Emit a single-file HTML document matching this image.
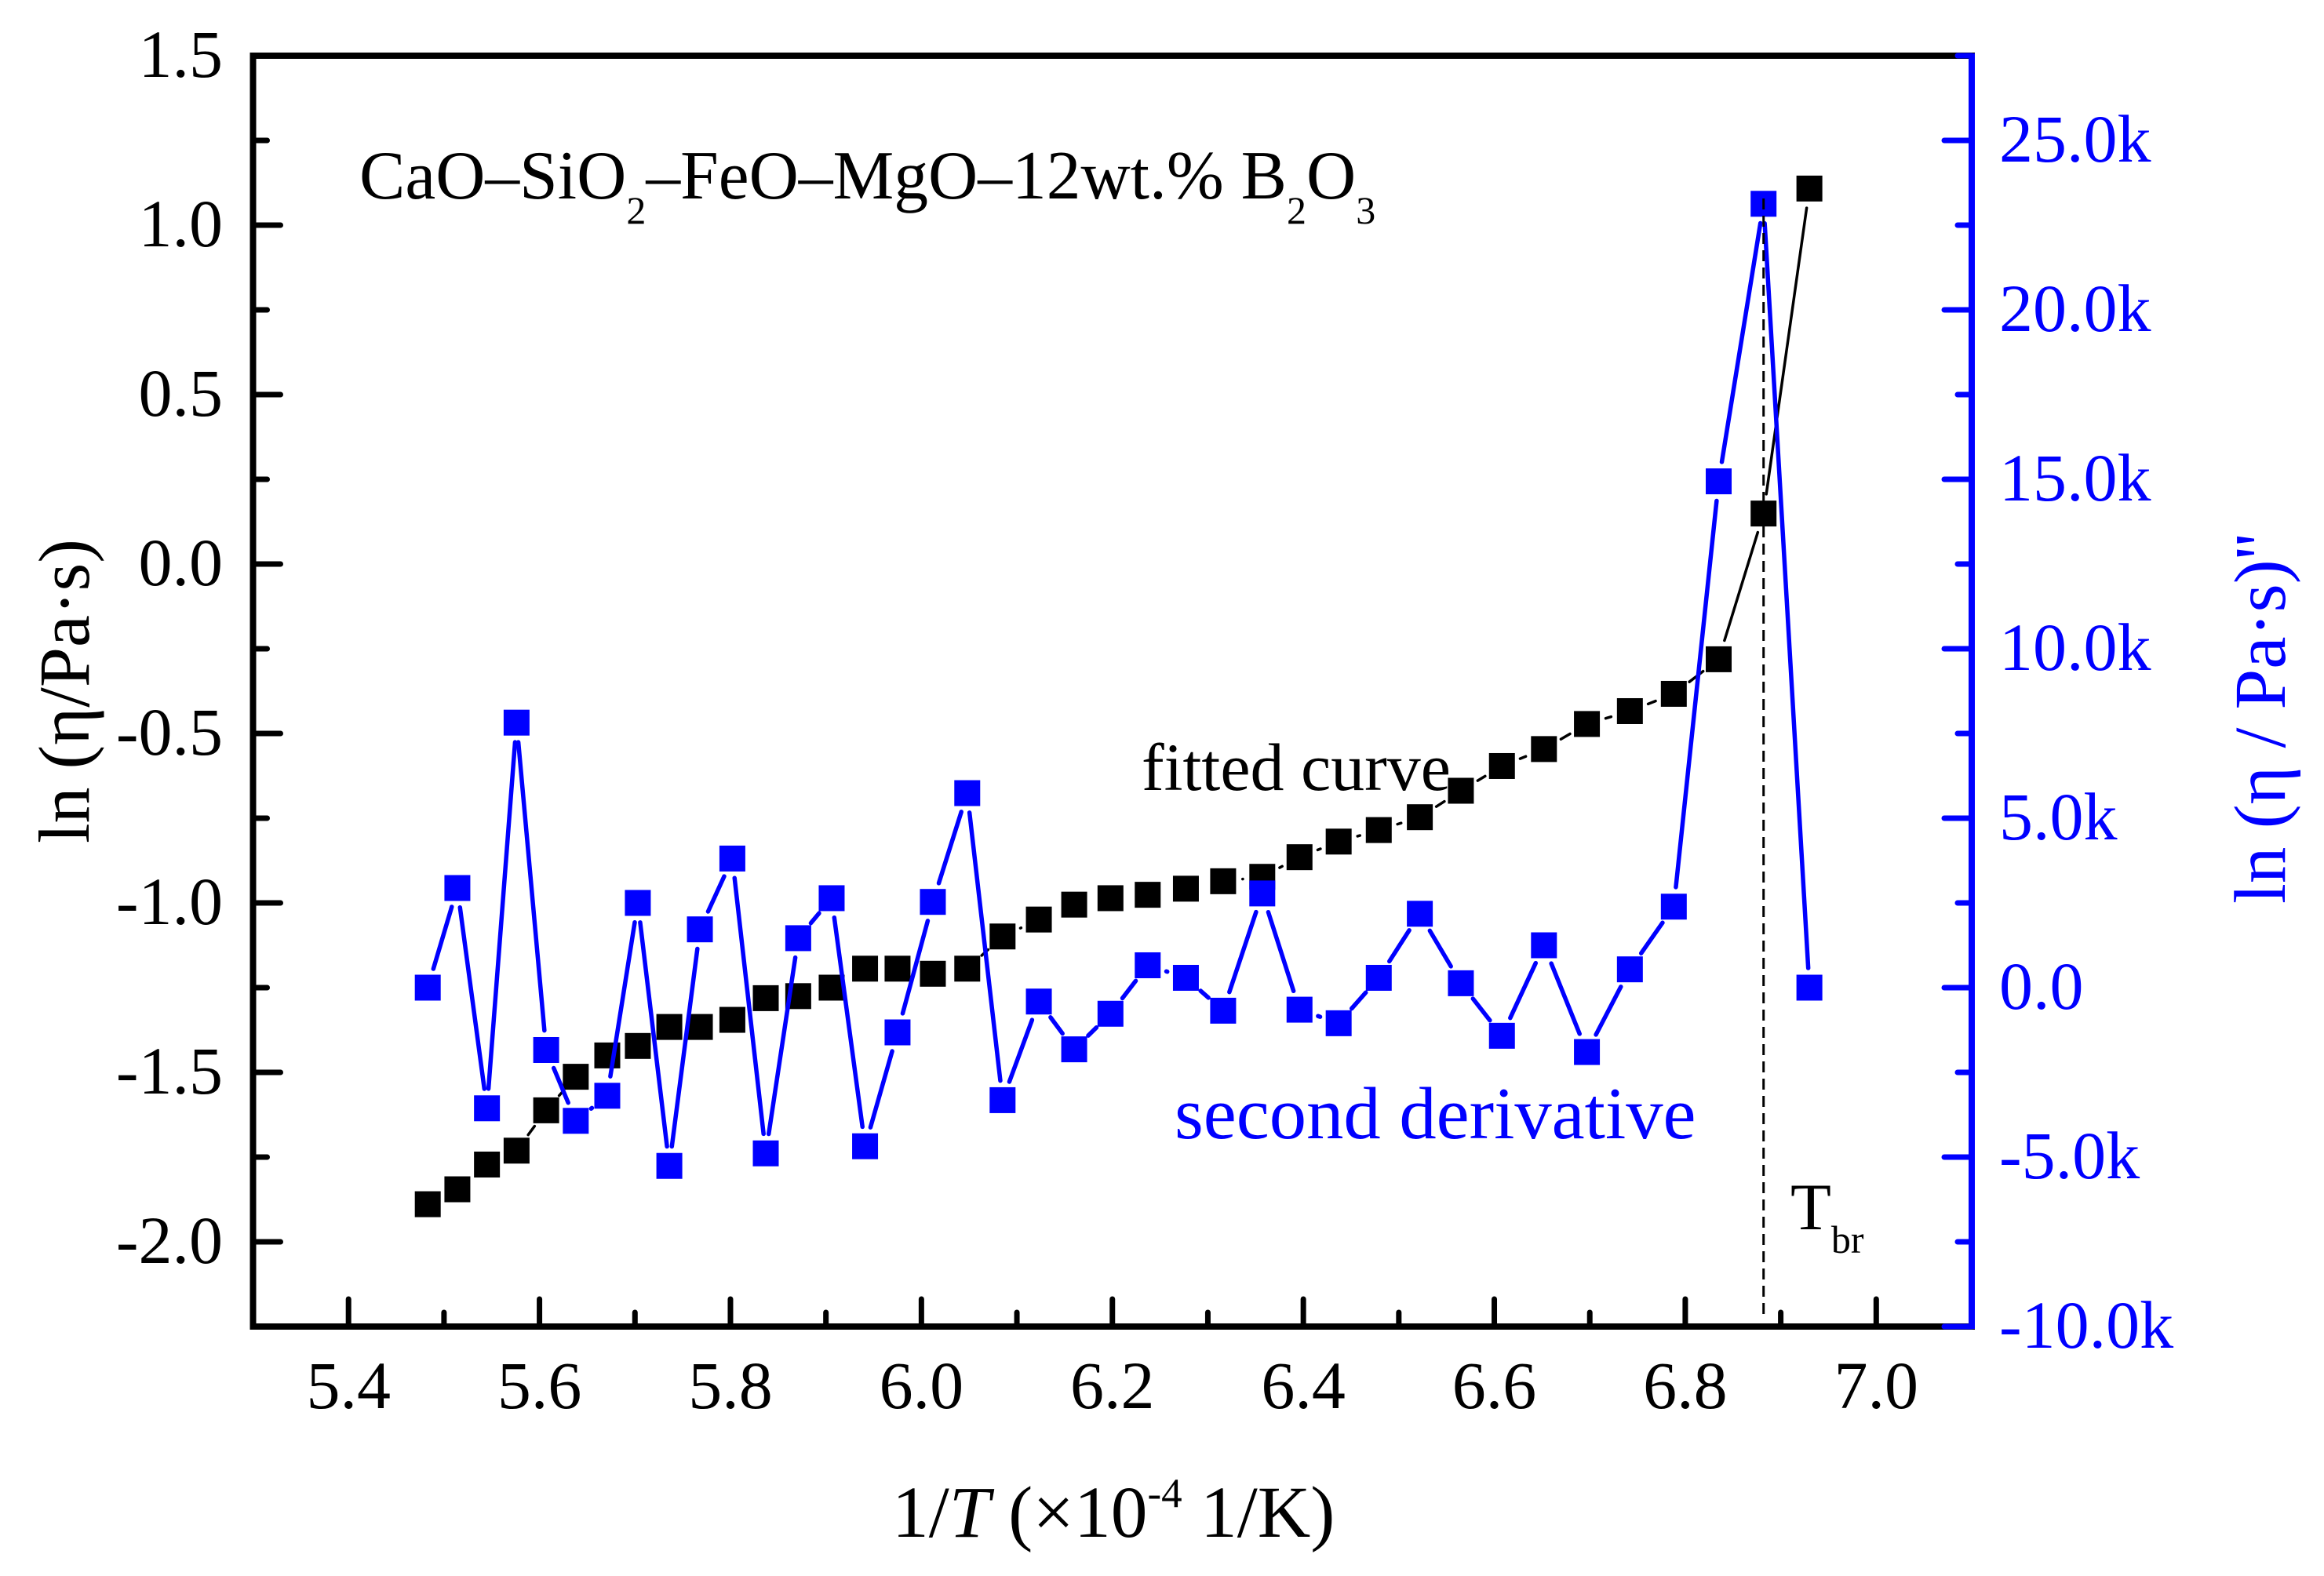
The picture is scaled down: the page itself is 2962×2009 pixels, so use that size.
<!DOCTYPE html>
<html lang="en">
<head>
<meta charset="utf-8">
<title>Viscosity and second derivative vs 1/T</title>
<style>
html,body{margin:0;padding:0;background:#fff;}
svg{display:block;}
text{font-family:"Liberation Serif","DejaVu Serif",serif;}
</style>
</head>
<body>
<svg id="chart" xmlns="http://www.w3.org/2000/svg" width="2962" height="2009" viewBox="0 0 2962 2009">
<rect width="2962" height="2009" fill="#ffffff"/>
<g id="marks"></g>
<g id="axes"></g>
<text x="458" y="253" font-size="87.5" fill="#000">CaO–SiO<tspan font-size="50" dy="32">2</tspan><tspan dy="-32">–FeO–MgO–12wt.% B</tspan><tspan font-size="50" dy="32">2</tspan><tspan dy="-32">O</tspan><tspan font-size="50" dy="32">3</tspan></text>
<text x="1455" y="1007" font-size="86" fill="#000">fitted curve</text>
<text x="1497" y="1451" font-size="94.6" fill="#0000ff">second derivative</text>
<text x="2282" y="1567" font-size="85" fill="#000">T<tspan font-size="50" dy="30">br</tspan></text>
<text x="1137" y="1959" font-size="93.5" fill="#000">1/<tspan font-style="italic">T</tspan> (×10<tspan font-size="53" dy="-38">-4</tspan><tspan dy="38"> 1/K)</tspan></text>
<text transform="translate(113 1075) rotate(-90)" font-size="92" fill="#000">ln (η/Pa·s)</text>
<text transform="translate(2912 1152) rotate(-90)" font-size="93" fill="#0000ff">ln (η / Pa·s)''</text>
</svg>
<script>
var xValues = [5.483,5.514,5.545,5.576,5.607,5.638,5.671,5.703,5.736,5.768,5.802,5.837,5.871,5.906,5.941,5.975,6.012,6.048,6.085,6.123,6.160,6.198,6.237,6.277,6.316,6.357,6.396,6.437,6.479,6.522,6.565,6.608,6.652,6.697,6.742,6.788,6.835,6.882,6.930];
var lnViscosity = [-1.889,-1.845,-1.772,-1.731,-1.612,-1.513,-1.450,-1.422,-1.366,-1.366,-1.345,-1.281,-1.275,-1.250,-1.194,-1.194,-1.209,-1.194,-1.099,-1.049,-1.005,-0.986,-0.976,-0.958,-0.936,-0.923,-0.865,-0.819,-0.785,-0.747,-0.669,-0.596,-0.546,-0.472,-0.434,-0.383,-0.281,0.149,1.108];
var secondDerivativeK = [0,2.94,-3.56,7.82,-1.84,-3.93,-3.19,2.50,-5.26,1.72,3.81,-4.89,1.46,2.64,-4.68,-1.32,2.53,5.74,-3.32,-0.41,-1.82,-0.77,0.66,0.29,-0.68,2.78,-0.65,-1.05,0.29,2.18,0.13,-1.42,1.25,-1.90,0.54,2.39,14.94,23.13,0];
var xTickLabels = ["5.4","5.6","5.8","6.0","6.2","6.4","6.6","6.8","7.0"];
var leftTickLabels = ["1.5","1.0","0.5","0.0","-0.5","-1.0","-1.5","-2.0"];
var rightTickLabels = ["25.0k","20.0k","15.0k","10.0k","5.0k","0.0","-5.0k","-10.0k"];
var breakX = [6.882];

var NS = "http://www.w3.org/2000/svg";
var plot = {left:322.5, right:2513, top:71, bottom:1691};
var BLUE = "#0000ff";
function sx(v){ return plot.left + (v - 5.3) / 1.8 * (plot.right - plot.left); }
function syLeft(v){ return plot.top + (1.5 - v) / 3.75 * (plot.bottom - plot.top); }
function syRight(v){ return plot.top + (27.5 - v) / 37.5 * (plot.bottom - plot.top); }
function make(parent, tag, attrs){
  var el = document.createElementNS(NS, tag);
  for (var k in attrs) el.setAttribute(k, attrs[k]);
  parent.appendChild(el);
  return el;
}
var marks = document.getElementById("marks");
var axes = document.getElementById("axes");

function drawSeries(xs, ys, syFn, color, lineW, label){
  var g = make(marks, "g", {});
  
  
  var gap = 25;
  for (var i = 0; i < xs.length - 1; i++){
    var x1 = sx(xs[i]), y1 = syFn(ys[i]), x2 = sx(xs[i+1]), y2 = syFn(ys[i+1]);
    var dx = x2 - x1, dy = y2 - y1, d = Math.sqrt(dx*dx + dy*dy);
    if (d <= 2 * gap) continue;
    var ux = dx / d, uy = dy / d;
    var seg = make(g, "line", {x1:x1+ux*gap, y1:y1+uy*gap, x2:x2-ux*gap, y2:y2-uy*gap, stroke:color, "stroke-width":lineW, "stroke-linecap":"round"});
    
    
  }
  for (var j = 0; j < xs.length; j++){
    var m = make(g, "rect", {x:sx(xs[j])-16.5, y:syFn(ys[j])-16.5, width:33, height:33, fill:color});
    
    
  }
}
drawSeries(xValues, lnViscosity, syLeft, "#000000", 3.5, "ln-viscosity");
drawSeries(xValues, secondDerivativeK, syRight, BLUE, 5.5, "second-derivative");

var brk = make(marks, "line", {x1:sx(breakX[0]), x2:sx(breakX[0]), y1:253, y2:1679, stroke:"#000", "stroke-width":3, "stroke-dasharray":"14 8"});



function tick(x1, y1, x2, y2, color, name){
  var t = make(axes, "line", {x1:x1, y1:y1, x2:x2, y2:y2, stroke:color, "stroke-width":7, "stroke-linecap":"round"});
  
  
}
function label(x, y, str, anchor, color, name){
  var t = make(axes, "text", {x:x, y:y, "text-anchor":anchor, "font-size":86, fill:color});
  t.textContent = str;
  
  
}
// bottom axis ticks
for (var i = 0; i < xTickLabels.length; i++){
  var v = parseFloat(xTickLabels[i]);
  tick(sx(v), plot.bottom, sx(v), plot.bottom - 35, "#000", "x-major-tick");
  if (v < 7) tick(sx(v + 0.1), plot.bottom, sx(v + 0.1), plot.bottom - 18, "#000", "x-minor-tick");
  label(sx(v), 1795, xTickLabels[i], "middle", "#000", "x-tick-label");
}
// left axis ticks
for (var i = 0; i < leftTickLabels.length; i++){
  var v = parseFloat(leftTickLabels[i]);
  tick(plot.left, syLeft(v), plot.left + 35, syLeft(v), "#000", "left-y-major-tick");
  if (v < 1.5) tick(plot.left, syLeft(v + 0.25), plot.left + 18, syLeft(v + 0.25), "#000", "left-y-minor-tick");
  label(284, syLeft(v) + 27, leftTickLabels[i], "end", "#000", "left-y-tick-label");
}
// frame
var frame = [
  ["top-axis-line", plot.left, plot.top, plot.right, plot.top, "#000"],
  ["left-axis-line", plot.left, plot.top, plot.left, plot.bottom, "#000"],
  ["bottom-axis-line", plot.left, plot.bottom, plot.right, plot.bottom, "#000"]
];
for (var i = 0; i < frame.length; i++){
  var f = make(axes, "line", {x1:frame[i][1], y1:frame[i][2], x2:frame[i][3], y2:frame[i][4], stroke:frame[i][5], "stroke-width":8, "stroke-linecap":"square"});
  
  
}
// right axis
for (var i = 0; i < rightTickLabels.length; i++){
  var v = parseFloat(rightTickLabels[i]);
  tick(plot.right, syRight(v), plot.right - 35, syRight(v), BLUE, "right-y-major-tick");
  tick(plot.right, syRight(v + 2.5), plot.right - 18, syRight(v + 2.5), BLUE, "right-y-minor-tick");
  label(2548, syRight(v) + 27, rightTickLabels[i], "start", BLUE, "right-y-tick-label");
}
var ra = make(axes, "line", {x1:plot.right, y1:plot.top - 3, x2:plot.right, y2:plot.bottom + 3, stroke:BLUE, "stroke-width":8});


</script>
</body>
</html>
